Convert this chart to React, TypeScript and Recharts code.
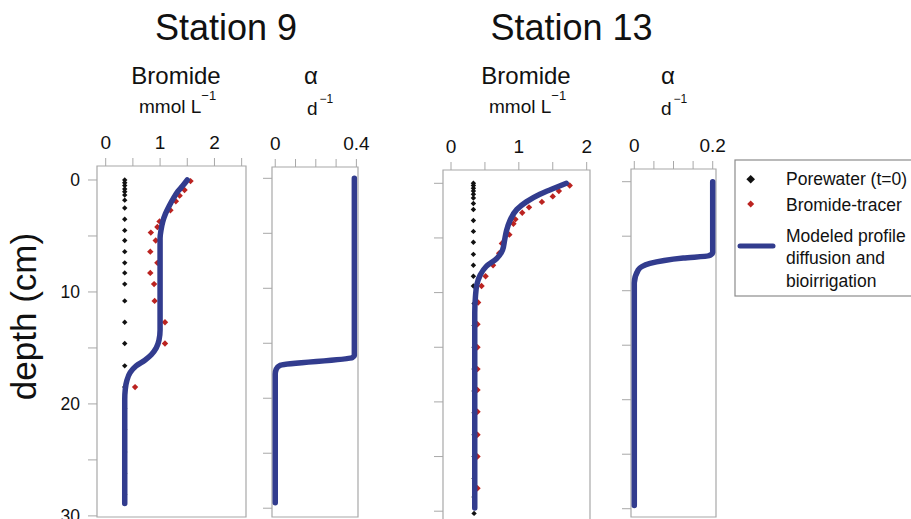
import React from "react";
import { ScatterChart, Scatter, XAxis, YAxis, ReferenceArea } from "recharts";

const FONT = '"Liberation Sans", Arial, Helvetica, sans-serif';
const BLUE = "#323c8e";
const RED = "#bb2320";
const BLACK = "#111111";
const FRAME = "#a8a8a8";

// ---- Station 9 ----
// porewater bromide before the tracer was added (t=0)
const st9PoreDepth = [0, 0.25, 0.5, 0.8, 1.05, 1.35, 1.8, 2.5, 3.5, 4.5, 5.4, 6.4, 7.4, 8.3, 9.3, 10.8, 12.7, 14.6, 16.6, 18.5, 20.4, 22.3, 24.3, 26.2, 28.1];
const st9PoreBr = [0.35, 0.35, 0.35, 0.35, 0.35, 0.35, 0.35, 0.35, 0.35, 0.35, 0.35, 0.35, 0.35, 0.35, 0.35, 0.35, 0.35, 0.35, 0.35, 0.35, 0.35, 0.35, 0.35, 0.35, 0.35];
// bromide tracer profile
const st9TracerDepth = [0.1, 0.9, 1.4, 1.9, 2.7, 3.7, 4.2, 4.7, 5.4, 6.4, 7.4, 8.3, 9.3, 10.8, 12.7, 14.6, 18.5];
const st9TracerBr = [1.56, 1.45, 1.36, 1.29, 1.19, 0.99, 0.95, 0.83, 0.92, 0.82, 0.95, 0.82, 0.89, 0.9, 1.09, 1.09, 0.54];
// modelled profile (diffusion + bioirrigation)
const st9ModelDepth = [0, 0.5, 1.0, 1.6, 2.3, 3.0, 3.7, 4.4, 5.2, 13.4, 14.3, 15.0, 15.6, 16.1, 16.6, 17.2, 17.9, 18.7, 19.6, 28.9];
const st9ModelBr = [1.5, 1.42, 1.33, 1.25, 1.17, 1.1, 1.05, 1.02, 1.0, 1.0, 0.98, 0.93, 0.84, 0.72, 0.56, 0.45, 0.39, 0.36, 0.35, 0.35];
// bioirrigation coefficient alpha (d-1)
const st9AlphaDepth = [0, 16.1, 16.3, 17.0, 17.35, 17.8, 29.5];
const st9Alpha = [0.39, 0.39, 0.38, 0.025, 0.005, 0, 0];

// ---- Station 13 ----
const st13PoreDepth = [0, 0.2, 0.45, 0.7, 1.0, 1.35, 1.85, 2.4, 3.4, 4.4, 5.4, 6.5, 7.5, 8.5, 9.4, 11, 13, 15, 17, 19, 21, 23, 25, 27, 28.7, 30.2];
const st13PoreBr = [0.33, 0.33, 0.33, 0.33, 0.33, 0.33, 0.33, 0.33, 0.33, 0.33, 0.33, 0.33, 0.33, 0.33, 0.33, 0.34, 0.34, 0.34, 0.34, 0.34, 0.34, 0.34, 0.34, 0.34, 0.34, 0.34];
const st13TracerDepth = [0.2, 0.7, 1.2, 1.7, 2.2, 2.7, 3.3, 3.7, 4.7, 5.5, 6.4, 7.5, 8.5, 9.4, 10.9, 12.9, 15.0, 17.0, 18.9, 20.9, 23.0, 25.0, 27.9];
const st13TracerBr = [1.75, 1.59, 1.5, 1.34, 1.15, 1.05, 0.95, 0.92, 0.86, 0.75, 0.71, 0.62, 0.51, 0.45, 0.4, 0.39, 0.39, 0.39, 0.39, 0.39, 0.39, 0.39, 0.39];
const st13ModelDepth = [0, 0.5, 1.0, 1.7, 2.4, 3.4, 4.3, 5.2, 6.1, 6.9, 7.6, 8.4, 9.3, 10.4, 11.9, 29.7];
const st13ModelBr = [1.7, 1.5, 1.31, 1.11, 0.97, 0.87, 0.82, 0.79, 0.76, 0.67, 0.52, 0.43, 0.38, 0.36, 0.35, 0.35];
const st13AlphaDepth = [0, 6.5, 6.8, 7.0, 7.5, 8.1, 9.3, 29.7];
const st13Alpha = [0.2, 0.2, 0.19, 0.125, 0.04, 0.01, 0, 0];

const depthTicks = [0, 5, 10, 15, 20, 25, 30];
const brTicks9 = [0, 0.5, 1, 1.5, 2, 2.5];
const brTicks13 = [0, 0.5, 1, 1.5, 2];
const alphaTicks9 = [0, 0.1, 0.2, 0.3, 0.4];
const alphaTicks13 = [0, 0.05, 0.1, 0.15, 0.2];

const legendNames = ["Porewater (t=0)", "Bromide-tracer"];
const modelLegend = ["Modeled profile", "diffusion and", "bioirrigation"];

type Pt = { x: number; depth: number };
const zip = (depth: number[], x: number[]): Pt[] => depth.map((d, i) => ({ depth: d, x: x[i] }));

const Diamond = (r: number, color: string) => (props: any) => {
  const { cx, cy } = props;
  if (cx == null || cy == null) return <g />;
  return (
    <path
      d={`M${cx},${cy - r} L${cx + r},${cy} L${cx},${cy + r} L${cx - r},${cy} Z`}
      fill={color}
    />
  );
};
const NoDot = () => <g />;

// tick label renderers, so the label font is fully under our control
const TopTick = (label: (v: number) => string) => (props: any) => {
  const { x, y, payload } = props;
  const s = label(payload.value);
  if (!s) return <g />;
  return (
    <text x={x} y={y} textAnchor="middle" fontSize={19} fontFamily={FONT} fill={BLACK}>
      {s}
    </text>
  );
};
const LeftTick = (label?: (v: number) => string) => (props: any) => {
  const { x, y, payload } = props;
  const s = label ? label(payload.value) : "";
  if (!s) return <g />;
  return (
    <text x={x} y={y} dy="0.36em" textAnchor="end" fontSize={17.5} fontFamily={FONT} fill={BLACK}>
      {s}
    </text>
  );
};

type Frame = { left: number; top: number; width: number; height: number };

type PanelProps = {
  frame: Frame;
  xDomain: [number, number];
  xTicks: number[];
  xLabel: (v: number) => string;
  yDomain: [number, number];
  yLabel?: (v: number) => string;
  pore?: Pt[];
  tracer?: Pt[];
  model: Pt[];
};

const AXIS_W = 60;
const AXIS_H = 45;
const PAD = 24;

function Panel({ frame, xDomain, xTicks, xLabel, yDomain, yLabel, pore, tracer, model }: PanelProps) {
  return (
    <div style={{ position: "absolute", left: frame.left - AXIS_W, top: frame.top - AXIS_H }}>
      <ScatterChart
        width={frame.width + AXIS_W + PAD}
        height={frame.height + AXIS_H + PAD}
        margin={{ top: 0, right: PAD, bottom: PAD, left: 0 }}
      >
        <XAxis
          type="number"
          dataKey="x"
          orientation="top"
          height={AXIS_H}
          domain={xDomain}
          allowDataOverflow
          ticks={xTicks}
          interval={0}
          axisLine={false}
          tickLine={{ stroke: FRAME }}
          tickSize={8}
          tickMargin={9}
          tick={TopTick(xLabel)}
        />
        <YAxis
          type="number"
          dataKey="depth"
          reversed
          width={AXIS_W}
          domain={yDomain}
          allowDataOverflow
          ticks={depthTicks}
          interval={0}
          axisLine={false}
          tickLine={{ stroke: FRAME }}
          tickSize={9}
          tickMargin={8}
          tick={LeftTick(yLabel)}
        />
        <ReferenceArea
          x1={xDomain[0]}
          x2={xDomain[1]}
          y1={yDomain[0]}
          y2={yDomain[1]}
          fill="none"
          stroke={FRAME}
          strokeWidth={1.2}
          ifOverflow="visible"
        />
        {pore && (
          <Scatter data={pore} fill={BLACK} shape={Diamond(2.7, BLACK)} isAnimationActive={false} />
        )}
        {tracer && (
          <Scatter data={tracer} fill={RED} shape={Diamond(3.2, RED)} isAnimationActive={false} />
        )}
        <Scatter
          data={model}
          fill={BLUE}
          shape={NoDot}
          line={{ stroke: BLUE, strokeWidth: 5.5, strokeLinecap: "round", strokeLinejoin: "round" }}
          lineType="joint"
          lineJointType="monotoneY"
          isAnimationActive={false}
        />
      </ScatterChart>
    </div>
  );
}

const intLabel = (v: number) => (Number.isInteger(v) ? String(v) : "");
const endLabel = (last: number) => (v: number) => (v === 0 ? "0" : v === last ? String(last) : "");
const depthLabel = (v: number) => (v % 10 === 0 ? String(v) : "");

export default function App() {
  const txt = { fontFamily: FONT, fill: BLACK };
  return (
    <div
      style={{
        position: "absolute",
        left: 0,
        top: 0,
        width: 911,
        height: 519,
        overflow: "hidden",
        background: "#ffffff",
      }}
    >
      <Panel
        frame={{ left: 97, top: 166, width: 149, height: 351 }}
        xDomain={[-0.16, 2.58]}
        xTicks={brTicks9}
        xLabel={intLabel}
        yDomain={[-1.25, 30.1]}
        yLabel={depthLabel}
        pore={zip(st9PoreDepth, st9PoreBr)}
        tracer={zip(st9TracerDepth, st9TracerBr)}
        model={zip(st9ModelDepth, st9ModelBr)}
      />
      <Panel
        frame={{ left: 272, top: 167, width: 86, height: 350 }}
        xDomain={[-0.016, 0.408]}
        xTicks={alphaTicks9}
        xLabel={endLabel(0.4)}
        yDomain={[-1.03, 30.8]}
        model={zip(st9AlphaDepth, st9Alpha)}
      />
      <Panel
        frame={{ left: 443, top: 170, width: 147, height: 360 }}
        xDomain={[-0.118, 2.049]}
        xTicks={brTicks13}
        xLabel={intLabel}
        yDomain={[-1.217, 31.72]}
        pore={zip(st13PoreDepth, st13PoreBr)}
        tracer={zip(st13TracerDepth, st13TracerBr)}
        model={zip(st13ModelDepth, st13ModelBr)}
      />
      <Panel
        frame={{ left: 631, top: 169, width: 85, height: 348 }}
        xDomain={[-0.0084, 0.2084]}
        xTicks={alphaTicks13}
        xLabel={endLabel(0.2)}
        yDomain={[-1.165, 30.76]}
        model={zip(st13AlphaDepth, st13Alpha)}
      />

      {/* titles, axis captions and legend */}
      <svg
        width={911}
        height={519}
        style={{ position: "absolute", left: 0, top: 0, pointerEvents: "none" }}
      >
        <text x={226} y={40} fontSize={36} textAnchor="middle" {...txt}>Station 9</text>
        <text x={571.5} y={40} fontSize={36} textAnchor="middle" {...txt}>Station 13</text>

        <text x={176} y={84} fontSize={24} textAnchor="middle" {...txt}>Bromide</text>
        <text x={139} y={113} fontSize={19} {...txt}>
          mmol L<tspan dy={-13} fontSize={13}>−1</tspan>
        </text>
        <text x={311} y={84} fontSize={24} textAnchor="middle" {...txt}>α</text>
        <text x={307} y={115} fontSize={19} {...txt}>
          d<tspan dx={2} dy={-12} fontSize={12}>−1</tspan>
        </text>

        <text x={526} y={84} fontSize={24} textAnchor="middle" {...txt}>Bromide</text>
        <text x={489} y={113} fontSize={19} {...txt}>
          mmol L<tspan dy={-13} fontSize={13}>−1</tspan>
        </text>
        <text x={668} y={84} fontSize={24} textAnchor="middle" {...txt}>α</text>
        <text x={661} y={115} fontSize={19} {...txt}>
          d<tspan dx={2} dy={-12} fontSize={12}>−1</tspan>
        </text>

        <text
          x={36}
          y={316.5}
          fontSize={35}
          textAnchor="middle"
          transform="rotate(-90 36 316.5)"
          {...txt}
        >
          depth (cm)
        </text>

        <rect x={735} y={160} width={200} height={136} fill="#ffffff" stroke="#8c8c8c" strokeWidth={1.2} />
        <path d="M750.7,175 L755,179.3 L750.7,183.6 L746.4,179.3 Z" fill={BLACK} />
        <text x={786} y={185} fontSize={17.5} {...txt}>{legendNames[0]}</text>
        <path d="M750.7,200.5 L754.2,204 L750.7,207.5 L747.2,204 Z" fill={RED} />
        <text x={786} y={211} fontSize={17.5} {...txt}>{legendNames[1]}</text>
        <line x1={740} y1={246} x2={773} y2={246} stroke={BLUE} strokeWidth={5} strokeLinecap="round" />
        {modelLegend.map((s, i) => (
          <text key={s} x={786} y={241.5 + i * 22.5} fontSize={17.5} {...txt}>{s}</text>
        ))}
      </svg>
    </div>
  );
}
